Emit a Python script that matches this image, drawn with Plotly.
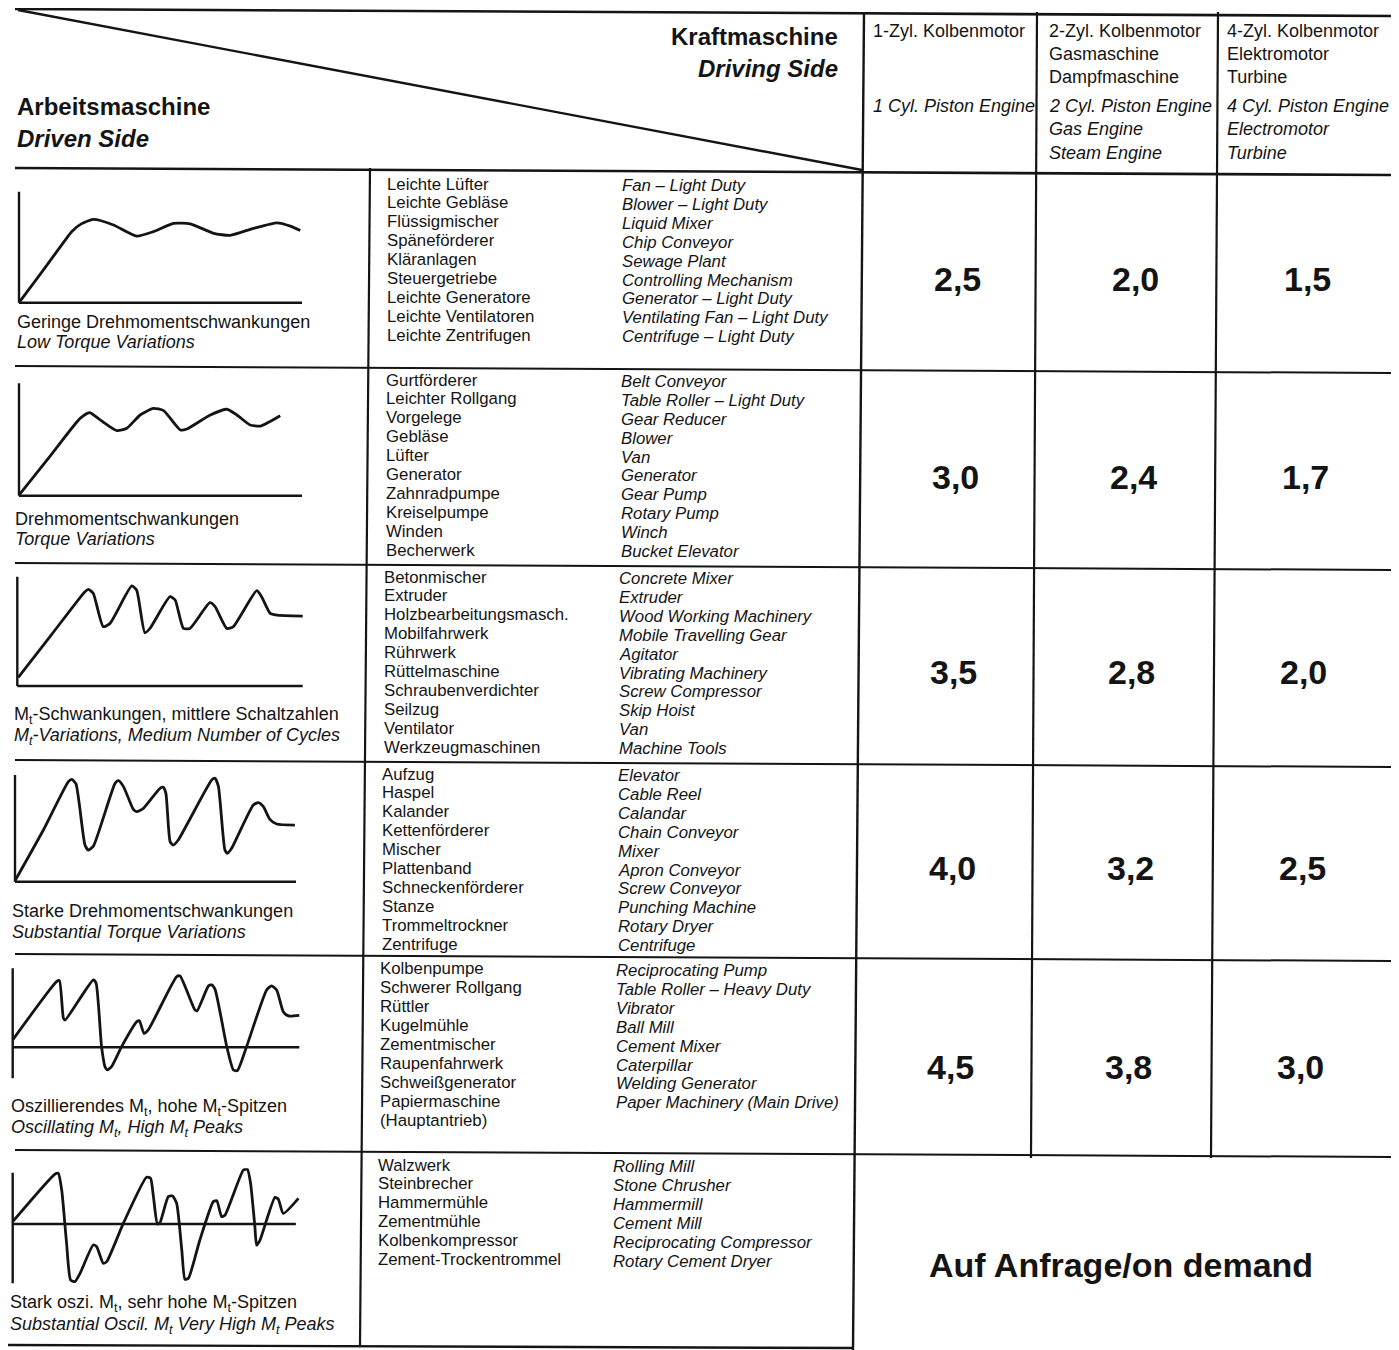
import plotly.graph_objects as go

W, H = 1399, 1350
OFF = 8                     # page body margin of the browser
FW, FH = W - OFF, H - OFF   # figure size so that reference pixels line up

# ---------------- data ----------------
drive_heading = ["Kraftmaschine", "Driving Side"]
driven_heading = ["Arbeitsmaschine", "Driven Side"]

driver_types_de = [["1-Zyl. Kolbenmotor"],
                   ["2-Zyl. Kolbenmotor", "Gasmaschine", "Dampfmaschine"],
                   ["4-Zyl. Kolbenmotor", "Elektromotor", "Turbine"]]
driver_types_en = [["1 Cyl. Piston Engine"],
                   ["2 Cyl. Piston Engine", "Gas Engine", "Steam Engine"],
                   ["4 Cyl. Piston Engine", "Electromotor", "Turbine"]]

load_classes_de = ["Geringe Drehmomentschwankungen",
                   "Drehmomentschwankungen",
                   "M<sub>t</sub>-Schwankungen, mittlere Schaltzahlen",
                   "Starke Drehmomentschwankungen",
                   "Oszillierendes M<sub>t</sub>, hohe M<sub>t</sub>-Spitzen",
                   "Stark oszi. M<sub>t</sub>, sehr hohe M<sub>t</sub>-Spitzen"]
load_classes_en = ["Low Torque Variations",
                   "Torque Variations",
                   "M<sub>t</sub>-Variations, Medium Number of Cycles",
                   "Substantial Torque Variations",
                   "Oscillating M<sub>t</sub>, High M<sub>t</sub> Peaks",
                   "Substantial Oscil. M<sub>t</sub> Very High M<sub>t</sub> Peaks"]

machines_de_1 = ["Leichte Lüfter", "Leichte Gebläse", "Flüssigmischer", "Späneförderer", "Kläranlagen",
                 "Steuergetriebe", "Leichte Generatore", "Leichte Ventilatoren", "Leichte Zentrifugen"]
machines_en_1 = ["Fan – Light Duty", "Blower – Light Duty", "Liquid Mixer", "Chip Conveyor", "Sewage Plant",
                 "Controlling Mechanism", "Generator – Light Duty", "Ventilating Fan – Light Duty",
                 "Centrifuge – Light Duty"]
machines_de_2 = ["Gurtförderer", "Leichter Rollgang", "Vorgelege", "Gebläse", "Lüfter", "Generator",
                 "Zahnradpumpe", "Kreiselpumpe", "Winden", "Becherwerk"]
machines_en_2 = ["Belt Conveyor", "Table Roller – Light Duty", "Gear Reducer", "Blower", "Van", "Generator",
                 "Gear Pump", "Rotary Pump", "Winch", "Bucket Elevator"]
machines_de_3 = ["Betonmischer", "Extruder", "Holzbearbeitungsmasch.", "Mobilfahrwerk", "Rührwerk",
                 "Rüttelmaschine", "Schraubenverdichter", "Seilzug", "Ventilator", "Werkzeugmaschinen"]
machines_en_3 = ["Concrete Mixer", "Extruder", "Wood Working Machinery", "Mobile Travelling Gear", "Agitator",
                 "Vibrating Machinery", "Screw Compressor", "Skip Hoist", "Van", "Machine Tools"]
machines_de_4 = ["Aufzug", "Haspel", "Kalander", "Kettenförderer", "Mischer", "Plattenband",
                 "Schneckenförderer", "Stanze", "Trommeltrockner", "Zentrifuge"]
machines_en_4 = ["Elevator", "Cable Reel", "Calandar", "Chain Conveyor", "Mixer", "Apron Conveyor",
                 "Screw Conveyor", "Punching Machine", "Rotary Dryer", "Centrifuge"]
machines_de_5 = ["Kolbenpumpe", "Schwerer Rollgang", "Rüttler", "Kugelmühle", "Zementmischer",
                 "Raupenfahrwerk", "Schweißgenerator", "Papiermaschine", "(Hauptantrieb)"]
machines_en_5 = ["Reciprocating Pump", "Table Roller – Heavy Duty", "Vibrator", "Ball Mill", "Cement Mixer",
                 "Caterpillar", "Welding Generator", "Paper Machinery (Main Drive)"]
machines_de_6 = ["Walzwerk", "Steinbrecher", "Hammermühle", "Zementmühle", "Kolbenkompressor",
                 "Zement-Trockentrommel"]
machines_en_6 = ["Rolling Mill", "Stone Chrusher", "Hammermill", "Cement Mill", "Reciprocating Compressor",
                 "Rotary Cement Dryer"]

factor_1cyl = [2.5, 3.0, 3.5, 4.0, 4.5]
factor_2cyl = [2.0, 2.4, 2.8, 3.2, 3.8]
factor_4cyl = [1.5, 1.7, 2.0, 2.5, 3.0]
on_demand_text = "Auf Anfrage/on demand"

# torque sketches: time (0..100) and torque (relative units)
t_1 = [0, 7, 14.5, 18.6, 22, 26.3, 33.4, 41.6, 47.5, 54.6, 60.5, 68.8, 74.6, 82.9, 91.2, 95.9, 99.4]
m_1 = [0, 24, 50, 64, 71, 75, 70, 60, 64, 71.5, 71, 62.5, 60.7, 67, 72, 69, 65]
t_2 = [0, 10, 21.6, 24.9, 28.7, 34.6, 38.1, 42.8, 47.5, 51.1, 57, 59.3, 67.6, 73.5, 77, 81.7, 85.3, 92.3]
m_2 = [0.5, 32, 68.8, 73.9, 67.4, 57.9, 60, 71.8, 77.7, 75.7, 58.5, 59.3, 71.8, 76.9, 71.8, 62.9, 62, 71.2]
t_3 = [0.35, 12, 23.7, 24.9, 26.6, 30.1, 32.5, 40.1, 41.8, 44.7, 46.5, 53.5, 55.3, 58.2, 60.5, 67.5, 69.3,
       73.4, 75.7, 83.9, 85.6, 88.6, 90.9, 100]
m_3 = [7.9, 47, 86.3, 88.4, 84.8, 54.3, 57.3, 91.5, 87.8, 48.8, 52.7, 81.7, 78.7, 52.7, 52.7, 76.2, 72.6,
       52.7, 54.3, 87.2, 81.7, 66.5, 64.9, 64]
t_4 = [0, 10, 19, 20.2, 21.7, 24.9, 26.1, 27.9, 35.6, 36.8, 38.6, 42.1, 43.3, 45.7, 51.6, 52.8, 53.7, 55.2,
       56.3, 58.1, 70, 71.2, 72.4, 74.7, 75.6, 77.1, 84.8, 86.6, 88.4, 90.7, 93.1, 99.6]
m_4 = [0.9, 48, 93.8, 95.9, 91.6, 34.4, 29.7, 33.4, 92.2, 94.7, 89.1, 67.8, 65.6, 68.8, 87.5, 88.4, 82.8,
       37.5, 34.4, 39.1, 95.3, 96.9, 89.1, 29.7, 26.6, 31.3, 71.9, 74.1, 70.3, 58.4, 54.1, 53.1]
t_5 = [0, 15.3, 16.3, 17.7, 18.3, 28.1, 29.1, 31, 32.2, 33, 34.5, 38, 43.3, 44.2, 45.8, 47.3, 57.2, 58.4,
       63.6, 64.4, 68.3, 69.4, 70.6, 74.7, 77, 78.4, 81.6, 88.6, 90.3, 92.1, 94.4, 96.2, 100]
m_5 = [6.7, 59.7, 60.6, 26.4, 24.8, 61.2, 58.2, 0.6, -17.6, -20.6, -17.6, 0.6, 23.3, 24.2, 12.7, 15.8,
       64.2, 64.8, 33.9, 33.3, 55.8, 56.7, 52.7, 0.6, -20.6, -21.2, 0.6, 52.1, 55.8, 52.1, 32.4, 28.5, 29.1]
t_6 = [0, 14.8, 15.9, 17.1, 18.8, 20.2, 21.7, 23.5, 28.1, 29.3, 31.6, 32.8, 38.6, 46.7, 48.1, 49.1, 50.5,
       51.4, 54.3, 55.8, 57.2, 59, 60.1, 61.3, 65.3, 70, 71.2, 72.9, 74.1, 80.5, 81.9, 83, 84.5, 85.1,
       86.3, 91.5, 92.7, 94.4, 99.7]
m_6 = [2.1, 45.2, 45.8, 30.7, -17.5, -50.6, -52.1, -44.6, -19, -20.5, -35.5, -34, 0.6, 42.2, 41.3, 24.7,
       0, 1.2, 24.7, 25.3, 18.7, -23.5, -50, -49.1, -14.5, 20.2, 21.1, 6.6, 8.1, 48.8, 49.4, 36.7, -2.4,
       -19, -14.5, 24.1, 22.3, 9.6, 23.2]

machines_de = [machines_de_1, machines_de_2, machines_de_3, machines_de_4, machines_de_5, machines_de_6]
machines_en = [machines_en_1, machines_en_2, machines_en_3, machines_en_4, machines_en_5, machines_en_6]
factors = [factor_1cyl, factor_2cyl, factor_4cyl]
curves_t = [t_1, t_2, t_3, t_4, t_5, t_6]
curves_m = [m_1, m_2, m_3, m_4, m_5, m_6]

# ---------------- layout helpers ----------------
INK = "#141414"
FONT = "Liberation Sans"


def px(x):
    return (x - OFF) / FW


def py(y):
    return 1 - (y - OFF) / FH


shapes = []
annotations = []


def line(x0, y0, x1, y1, w=2.2):
    shapes.append(dict(type="line", xref="paper", yref="paper", x0=px(x0), y0=py(y0), x1=px(x1), y1=py(y1),
                       line=dict(color=INK, width=w)))


def text(x, y, s, size, bold=False, italic=False, anchor="left"):
    annotations.append(dict(xref="paper", yref="paper", x=px(x), y=py(y), text=s, showarrow=False,
                            xanchor=anchor, yanchor="middle",
                            font=dict(family=FONT, size=size, color=INK,
                                      weight="bold" if bold else "normal",
                                      style="italic" if italic else "normal")))


# table rules
line(15, 9, 1395, 16, 2.6)            # top
line(18, 10, 862, 170, 2.4)           # diagonal
line(15, 168, 1395, 175, 2.6)         # header bottom
for yl in [366, 563, 760, 954, 1150]:
    line(15, yl, 1395, yl + 7, 2.0)
line(8, 1345, 853, 1348, 2.4)         # bottom
line(864, 12, 853, 1350, 2.4)         # driving side separator
line(1037, 12, 1031, 1158, 2.2)
line(1218, 12, 1211, 1158, 2.2)
line(370, 168, 360, 1345, 2.2)        # curve / machine list separator

# headings
text(840, 37, drive_heading[0], 24, bold=True, anchor="right")
text(840, 69, drive_heading[1], 24, bold=True, italic=True, anchor="right")
text(15, 106, driven_heading[0], 24, bold=True)
text(15, 138, driven_heading[1], 24, bold=True, italic=True)

col_x = [871, 1047, 1225]
for c in range(3):
    for i, s in enumerate(driver_types_de[c]):
        text(col_x[c], 31 + 23 * i, s, 18)
    for i, s in enumerate(driver_types_en[c]):
        text(col_x[c], 106 + 23.5 * i, s, 18, italic=True)

# service factors
fac_x = [957, 1135, 1307]
fac_y = [279, 477, 672, 868, 1067]
for c in range(3):
    for r, v in enumerate(factors[c]):
        text(fac_x[c] - 1.6 * r, fac_y[r], f"{v:.1f}".replace(".", ","), 34, bold=True, anchor="center")
text(1121, 1265, on_demand_text, 34, bold=True, anchor="center")

# machine lists
de_x = [385, 384, 382, 380, 378, 376]
en_x = [620, 619, 617, 616, 614, 611]
first_y = [184, 380, 577, 774, 969, 1165]
for r in range(6):
    for i, s in enumerate(machines_de[r]):
        text(de_x[r], first_y[r] + 18.9 * i, s, 16.8)
    for i, s in enumerate(machines_en[r]):
        text(en_x[r], first_y[r] + 1.5 + 18.9 * i, s, 16.8, italic=True)

# captions
cap_x = [15, 13, 12, 10, 9, 8]
cap_y = [322, 519, 715, 911, 1107, 1303]
cap_gap = [20, 20, 21.5, 20.5, 21.5, 22.5]
for r in range(6):
    text(cap_x[r], cap_y[r], load_classes_de[r], 18)
    text(cap_x[r], cap_y[r] + cap_gap[r], load_classes_en[r], 18, italic=True)

# ---------------- torque sketches (one small axis per row) ----------------
# (pixel x of t=0, pixel x of t=100, pixel y of M=0, pixels per M unit, axis bottom M, axis top M, axis length t)
sketch_boxes = [
    (19, 302, 302.7, 1.110, 0, 100, 100),
    (19, 302, 495.7, 1.124, 0, 100, 100),
    (17.3, 302.7, 686, 1.093, 0, 100, 100),
    (15, 296, 881.7, 1.067, 0, 100, 100),
    (12.7, 299.3, 1047.3, 1.100, -28.2, 71.8, 100),
    (12.7, 299.3, 1224, 1.107, -53.6, 46.4, 98.8),
]

fig = go.Figure()
layout_axes = {}
for r in range(6):
    x0p, x100p, y0p, ppm, mb, mt, tl = sketch_boxes[r]
    ppt = (x100p - x0p) / 100
    t_lo = max(-4, -(x0p - OFF - 0.5) / ppt)
    t_hi = 104
    m_lo, m_hi = mb - 4, mt + 4
    xd = [px(x0p + t_lo * ppt), px(x0p + t_hi * ppt)]
    yd = [py(y0p - m_lo * ppm), py(y0p - m_hi * ppm)]
    k = "" if r == 0 else str(r + 1)
    xa, ya = "x" + k, "y" + k
    layout_axes["xaxis" + k] = dict(domain=xd, range=[t_lo, t_hi], visible=False, anchor=ya, fixedrange=True)
    layout_axes["yaxis" + k] = dict(domain=yd, range=[m_lo, m_hi], visible=False, anchor=xa, fixedrange=True)
    # sketch axes
    shapes.append(dict(type="line", xref=xa, yref=ya, x0=0, x1=0, y0=mb, y1=mt,
                       line=dict(color=INK, width=2.4)))
    shapes.append(dict(type="line", xref=xa, yref=ya, x0=0, x1=tl, y0=0, y1=0,
                       line=dict(color=INK, width=2.4)))
    fig.add_trace(go.Scatter(x=curves_t[r], y=curves_m[r], mode="lines", xaxis=xa, yaxis=ya,
                             line=dict(color=INK, width=2.8, shape="spline", smoothing=0.55),
                             hoverinfo="skip", showlegend=False))

fig.update_layout(
    width=FW, height=FH,
    margin=dict(l=0, r=0, t=0, b=0),
    paper_bgcolor="white", plot_bgcolor="rgba(0,0,0,0)",
    showlegend=False,
    shapes=shapes, annotations=annotations,
    **layout_axes,
)

fig.write_html("out.html")
